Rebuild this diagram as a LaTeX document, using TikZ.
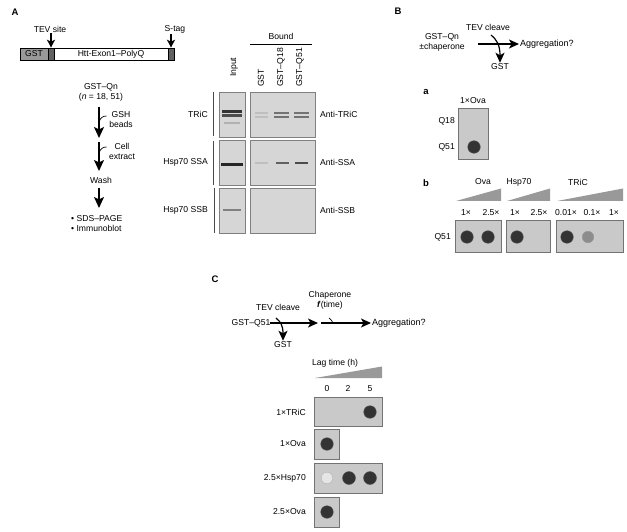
\documentclass[tikz,border=0pt]{standalone}
\usepackage{fontspec}
\setmainfont{Liberation Sans}
\usetikzlibrary{arrows.meta}
\begin{document}
\begin{tikzpicture}[x=1pt,y=-1pt,
  font=\fontsize{8.6}{10}\selectfont,
  every node/.style={inner sep=1pt},
  lbl/.style={font=\fontsize{9.5}{11}\selectfont\bfseries},
  bigtxt/.style={font=\fontsize{9}{10.5}\selectfont},
  cbox/.style={draw, line width=0.6pt, minimum height=12pt, inner sep=0pt},
  blot/.style={draw=black!55, fill=black!21, line width=0.6pt, inner sep=0pt},
  blotA/.style={draw=black!50, fill=black!16, line width=0.6pt, inner sep=0pt},
  arr/.style={line width=1.2pt, -{Stealth[length=10pt,width=9pt,inset=2.5pt]}},
  smallarr/.style={line width=1.1pt, -{Stealth[length=8pt,width=8pt,inset=2pt]}},
  bigarr/.style={line width=1.5pt, -{Stealth[length=11pt,width=10pt,inset=2.5pt]}},
  hookline/.style={line width=0.7pt},
  thin/.style={line width=0.6pt},
  wedge/.style={fill=black!40},
  spot/.style={fill=black!80, draw=black!65, line width=0.4pt},
  band/.style={fill=black!80},
  rot/.style={rotate=90, anchor=west, inner sep=0pt}
]
\useasboundingbox (0,0) rectangle (627,532);

%% ---------------- Panel A ----------------
\node[lbl] (labA) at (15,12) {A};
\node[cbox, fill=black!40, minimum width=28pt] (gst) at (34,54) {GST};
\node[cbox, fill=black!62, minimum width=6pt] (tev) at (51,54) {};
\node[cbox, fill=white, minimum width=114pt] (htt) at (111,54) {Htt-Exon1–PolyQ};
\node[cbox, fill=black!62, minimum width=6pt] (stag) at (171,54) {};
\node (tevl) at (50,29) {TEV site};
\node (stagl) at (175,29) {S-tag};
\draw[smallarr] (tev.north |- tevl.south) -- (tev.north);
\draw[smallarr] (stag.north |- stagl.south) -- (stag.north);

% flowchart
\node[align=center] (gqn) at (101,92) {GST–Qn\\(\textit{n} = 18, 51)};
\coordinate (f1a) at (99,107);
\coordinate (f1b) at (99,138);
\coordinate (f2a) at (99,142);
\coordinate (f2b) at (99,171);
\coordinate (f3a) at (99,188);
\coordinate (f3b) at (99,208);
\draw[bigarr] (f1a) -- (f1b);
\draw[bigarr] (f2a) -- (f2b);
\draw[bigarr] (f3a) -- (f3b);
\draw[hookline] (99,122) .. controls (100.5,117.5) and (103,116) .. (106.5,116);
\draw[hookline] (99,153) .. controls (100.5,148.5) and (103,147) .. (106.5,147);
\node[align=center] (gsh) at (121,120) {GSH\\beads};
\node[align=center] (cell) at (122,151.5) {Cell\\extract};
\node (wash) at (101,180) {Wash};
\node[align=left, anchor=west] (sds) at (70,224) {\textbullet\ SDS–PAGE\\\textbullet\ Immunoblot};

% blots header
\node (bound) at (281,36) {Bound};
\coordinate (bl) at (250,44);
\coordinate (br) at (312,44);
\draw[thin] (bl) -- (br);
\node[rot] (cin) at (234,77) {Input};
\node[rot] (cgst) at (261,87) {GST};
\node[rot] (cq18) at (281,87) {GST–Q18};
\node[rot] (cq51) at (300,87) {GST–Q51};

% blot panels
\node[blotA, minimum width=26pt, minimum height=45pt] (in1) at (232,114.5) {};
\node[blotA, minimum width=26pt, minimum height=45pt] (in2) at (232,162.5) {};
\node[blotA, minimum width=26pt, minimum height=45pt] (in3) at (232,210.5) {};
\node[blotA, minimum width=65pt, minimum height=45pt] (bd1) at (282.5,114.5) {};
\node[blotA, minimum width=65pt, minimum height=45pt] (bd2) at (282.5,162.5) {};
\node[blotA, minimum width=65pt, minimum height=45pt] (bd3) at (282.5,210.5) {};

% bands
\fill[band] (222,110) rectangle (242,112.6);
\fill[band, fill=black!70] (222,114.2) rectangle (242,116.6);
\fill[band, fill=black!30] (224,122.5) rectangle (240,124);
\fill[band, fill=black!85] (221,163.5) rectangle (243,166.5);
\fill[band, fill=black!50] (223,209.5) rectangle (241,211);
\fill[band, fill=black!25] (255,112.5) rectangle (268,114);
\fill[band, fill=black!25] (255,116.2) rectangle (268,117.6);
\fill[band, fill=black!55] (274,112) rectangle (289,114);
\fill[band, fill=black!55] (274,116) rectangle (289,118);
\fill[band, fill=black!55] (294,112) rectangle (309,114);
\fill[band, fill=black!55] (294,116) rectangle (309,118);
\fill[band, fill=black!25] (255,162) rectangle (268,163.6);
\fill[band, fill=black!62] (276,161.8) rectangle (289,164.2);
\fill[band, fill=black!70] (295,161.8) rectangle (308,164.2);

% row labels
\node[anchor=east] (rTRiC) at (209,114) {TRiC};
\node[anchor=east] (rSSA) at (209,162) {Hsp70 SSA};
\node[anchor=east] (rSSB) at (209,210) {Hsp70 SSB};
\draw[thin, black!70] (213,92) -- (213,136);
\draw[thin, black!70] (213,141) -- (213,185);
\draw[thin, black!70] (214,188) -- (214,233);
\node[anchor=west] (aTRiC) at (319,114) {Anti-TRiC};
\node[anchor=west] (aSSA) at (319,162) {Anti-SSA};
\node[anchor=west] (aSSB) at (319,210) {Anti-SSB};

%% ---------------- Panel B ----------------
\node[lbl] (labB) at (398,11) {B};
\node[align=center] (gqnB) at (442,42.5) {GST–Qn\\±chaperone};
\node (tevB) at (488,27) {TEV cleave};
\node[anchor=west, bigtxt] (aggB) at (519,44) {Aggregation?};
\node (gstB) at (500,67) {GST};
\coordinate (hB) at (478,44);
\draw[arr] (hB) -- (aggB.west);
\draw[arr] (491,35) .. controls (497,40) and (500,45) .. (gstB.north);

% B a
\node[lbl] (laba) at (426,92) {a};
\node (ova1) at (473,101) {1×Ova};
\node[blot, minimum width=30pt, minimum height=51pt] (bBa) at (473,133.5) {};
\node[anchor=east] (q18) at (456,121) {Q18};
\node[anchor=east] (q51a) at (456,147) {Q51};
\fill[spot] (474,147) circle (6.3);

% B b
\node[lbl] (labb) at (426,183) {b};
\node (hOva) at (483,182) {Ova};
\node (hHsp) at (519,182) {Hsp70};
\node (hTRiC) at (578,182) {TRiC};
\fill[wedge] (456,201) -- (501,201) -- (501,188.5) -- cycle;
\fill[wedge] (507,201) -- (550,201) -- (550,188.5) -- cycle;
\fill[wedge] (557,201) -- (623,201) -- (623,188.5) -- cycle;
\node (c1) at (466,213) {1×};
\node (c2) at (491,213) {2.5×};
\node (c3) at (515,213) {1×};
\node (c4) at (539,213) {2.5×};
\node (c5) at (566,213) {0.01×};
\node (c6) at (592,213) {0.1×};
\node (c7) at (614,213) {1×};
\node[blot, minimum width=46pt, minimum height=32pt] (bOva) at (478,236) {};
\node[blot, minimum width=44pt, minimum height=32pt] (bHsp) at (528,236) {};
\node[blot, minimum width=67pt, minimum height=32pt] (bTRiC) at (589.5,236) {};
\node[anchor=east] (q51b) at (452,237) {Q51};
\fill[spot] (467,237) circle (6.3);
\fill[spot] (488,237) circle (6.3);
\fill[spot] (517,237) circle (6.3);
\fill[spot] (567,237) circle (6.3);
\fill[spot, fill=black!45, draw=black!40] (588,237) circle (5.8);

%% ---------------- Panel C ----------------
\node[lbl] (labC) at (215,279) {C};
\node (gq51) at (251,323) {GST–Q51};
\node (tevC) at (278,307) {TEV cleave};
\node[align=center] (chap) at (330,300) {Chaperone\\\textbf{\textit{f}}(time)};
\node[anchor=west, bigtxt] (aggC) at (371,323) {Aggregation?};
\node (gstC) at (283,345) {GST};
\coordinate (c1a) at (270,323);
\coordinate (c1b) at (318,323);
\coordinate (c2a) at (321,323);
\draw[arr] (c1a) -- (c1b);
\draw[arr] (c2a) -- (aggC.west);
\draw[arr] (276,318) .. controls (281,322) and (283,326) .. (gstC.north);
\draw[hookline] (329,318) .. controls (331,319) and (332,321) .. (333,323);

\node (lag) at (335,363) {Lag time (h)};
\fill[wedge] (315,378) -- (382,378) -- (382,366.5) -- cycle;
\node[anchor=base] (t0) at (327,391) {0};
\node[anchor=base] (t2) at (348,391) {2};
\node[anchor=base] (t5) at (370,391) {5};

\node[blot, minimum width=68pt, minimum height=29pt] (r1) at (348,411.5) {};
\node[blot, minimum width=25pt, minimum height=30pt] (r2) at (326.5,444) {};
\node[blot, minimum width=68pt, minimum height=30pt] (r3) at (348,478) {};
\node[blot, minimum width=25pt, minimum height=30pt] (r4) at (326.5,512) {};
\node[anchor=east] (l1) at (307,412) {1×TRiC};
\node[anchor=east] (l2) at (307,444) {1×Ova};
\node[anchor=east] (l3) at (307,478) {2.5×Hsp70};
\node[anchor=east] (l4) at (307,512) {2.5×Ova};
\fill[spot] (370,412) circle (6.3);
\fill[spot] (327,444) circle (6.3);
\fill[spot, fill=black!10, draw=black!30] (327,478) circle (5.8);
\fill[spot] (349,478) circle (6.5);
\fill[spot] (370,478) circle (6.5);
\fill[spot] (327,512) circle (6.3);
\end{tikzpicture}
\end{document}
